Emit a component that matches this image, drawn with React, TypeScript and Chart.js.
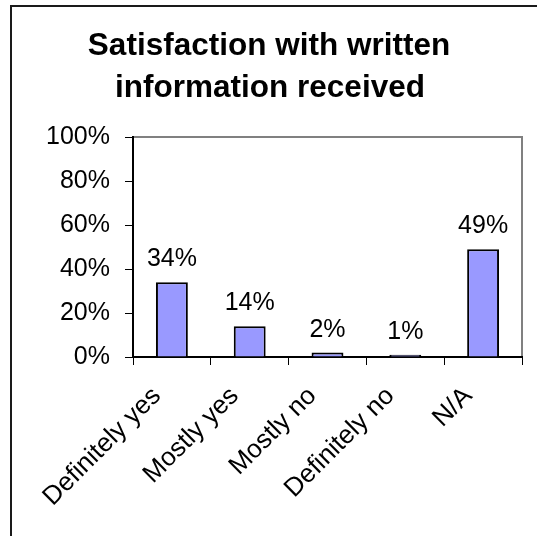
import React, { useEffect, useRef } from 'react';
import { Chart, registerables } from 'chart.js';

Chart.register(...registerables);

const categories = ['Definitely yes', 'Mostly yes', 'Mostly no', 'Definitely no', 'N/A'];
const values = [34, 14, 2, 1, 49];
const yTicks = [0, 20, 40, 60, 80, 100];
const titleLines = ['Satisfaction with written', 'information received'];

const FONT = "'Liberation Sans', Arial, Helvetica, sans-serif";
const W = 537;
const H = 536;

export default function App() {
  const ref = useRef<HTMLCanvasElement>(null);

  useEffect(() => {
    const canvas = ref.current!;

    const framePlugin = {
      id: 'frameAndTitle',
      beforeDraw(chart: any) {
        const ctx = chart.ctx;
        ctx.save();
        ctx.fillStyle = '#ffffff';
        ctx.fillRect(0, 0, chart.width, chart.height);
        // outer frame (extends beyond the visible area on right/bottom)
        ctx.strokeStyle = '#1a1a1a';
        ctx.lineWidth = 2;
        ctx.beginPath();
        ctx.moveTo(11, chart.height + 10);
        ctx.lineTo(11, 6);
        ctx.lineTo(chart.width + 10, 6);
        ctx.stroke();
        // title
        ctx.fillStyle = '#000';
        ctx.font = `bold 31.5px ${FONT}`;
        ctx.textAlign = 'center';
        ctx.textBaseline = 'alphabetic';
        ctx.fillText(titleLines[0], 269, 55);
        ctx.fillText(titleLines[1], 270, 97);
        // plot area border (top & right)
        const a = chart.chartArea;
        ctx.strokeStyle = '#808080';
        ctx.lineWidth = 2;
        ctx.beginPath();
        ctx.moveTo(a.left, a.top);
        ctx.lineTo(a.right, a.top);
        ctx.lineTo(a.right, a.bottom);
        ctx.stroke();
        ctx.restore();
      },
    };

    const labelPlugin = {
      id: 'barLabels',
      afterDatasetsDraw(chart: any) {
        const ctx = chart.ctx;
        const meta = chart.getDatasetMeta(0);
        ctx.save();
        ctx.fillStyle = '#000';
        ctx.font = `25px ${FONT}`;
        ctx.textAlign = 'center';
        ctx.textBaseline = 'alphabetic';
        meta.data.forEach((el: any, i: number) => {
          ctx.fillText(values[i] + '%', el.x, el.y - 16);
        });
        ctx.restore();
      },
    };

    const chart = new Chart(canvas, {
      type: 'bar',
      data: {
        labels: categories,
        datasets: [
          {
            data: values,
            backgroundColor: '#9999ff',
            borderColor: '#000000',
            borderWidth: 2,
            barPercentage: 0.41,
            categoryPercentage: 1,
          },
        ],
      },
      options: {
        responsive: false,
        animation: false,
        events: [],
        layout: { padding: { left: 0, top: 137, right: 15, bottom: 0 } },
        plugins: {
          legend: { display: false },
          title: { display: false },
          tooltip: { enabled: false },
        },
        scales: {
          x: {
            grid: {
              offset: true,
              drawOnChartArea: false,
              drawTicks: true,
              tickLength: 8,
              color: '#000',
              lineWidth: 1,
            },
            border: { color: '#000', width: 2 },
            ticks: {
              autoSkip: false,
              maxRotation: 45,
              minRotation: 45,
              padding: 16,
              labelOffset: -15,
              color: '#000',
              font: { family: FONT, size: 26 },
            },
            afterFit(scale: any) {
              scale.height = H - 357;
              scale.paddingLeft = 0;
              scale.paddingRight = 0;
            },
          },
          y: {
            min: 0,
            max: 100,
            grid: {
              drawOnChartArea: false,
              drawTicks: true,
              tickLength: 8,
              color: '#000',
              lineWidth: 1,
            },
            border: { color: '#000', width: 2 },
            ticks: {
              stepSize: 20,
              padding: 15,
              color: '#000',
              font: { family: FONT, size: 25 },
              callback: (v: any) => v + '%',
            },
            afterBuildTicks(scale: any) {
              scale.ticks = yTicks.map((v) => ({ value: v }));
            },
            afterFit(scale: any) {
              scale.width = 133;
              scale.paddingTop = 0;
              scale.paddingBottom = 0;
            },
          },
        },
      },
      plugins: [framePlugin, labelPlugin],
    });

    return () => {
      chart.destroy();
    };
  }, []);

  return (
    <div style={{ position: 'absolute', left: 0, top: 0, width: W, height: H, background: '#fff' }}>
      <canvas ref={ref} width={W} height={H} style={{ display: 'block', width: W, height: H }} />
    </div>
  );
}
